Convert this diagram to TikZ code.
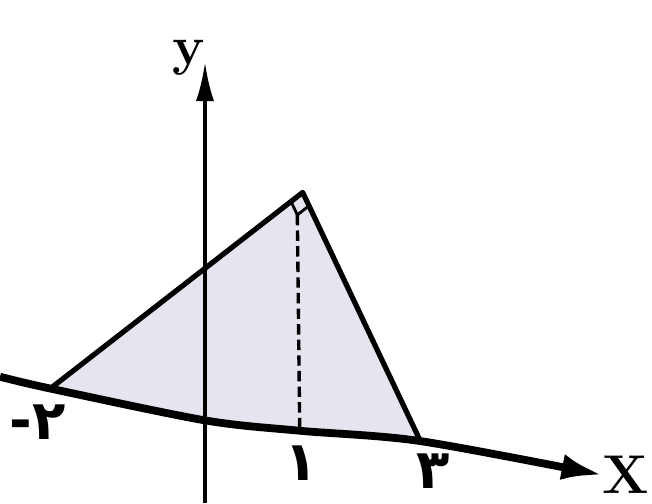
\documentclass[tikz,border=0pt]{standalone}
\usepackage{fontspec}
\newfontfamily\farsi{DejaVu Sans}
\usetikzlibrary{arrows.meta,calc}
\definecolor{trifill}{RGB}{228,229,238}
\begin{document}
\begin{tikzpicture}[
    axis/.style={line width=3pt,-{Latex[length=16pt,width=10pt]}},
    yaxis/.style={line width=1.4pt,-{Latex[length=15pt,width=7pt]}},
    side/.style={line width=2pt,line join=round},
    tick/.style={font=\farsi\bfseries\fontsize{21}{23}\selectfont,inner sep=0pt},
    letter/.style={font=\bfseries\fontsize{21}{24}\selectfont,inner sep=0pt}
  ]
    \useasboundingbox (-2.77,-1.12) rectangle (6.04,5.68);
    % points
    \coordinate (xs) at (-2.77,0.59);
    \coordinate (A) at (-2.09,0.43);
    \coordinate (O) at (0,0);
    \coordinate (D) at (1.28,-0.14);
    \coordinate (C) at (2.91,-0.28);
    \coordinate (xe) at (5.38,-0.74);
    \coordinate (B) at (1.32,3.08);
    \coordinate (ys) at (0,-1.12);
    \coordinate (ye) at (0,4.84);
    % shaded triangle
    \fill[trifill] (A) -- (B) -- plot[smooth] coordinates {(C) (D) (O) (A)} -- cycle;
    % right angle and height
    \coordinate (ra1) at ($(B)!0.2cm!(A)$);
    \coordinate (ra3) at ($(B)!0.2cm!(C)$);
    \coordinate (ra2) at ($(ra1)+(ra3)-(B)$);
    \draw[line width=1.3pt,dash pattern=on 4pt off 2pt] (ra2) -- (D);
    \draw[line width=1.1pt] (ra1) -- (ra2) -- (ra3);
    % axes
    \draw[yaxis] (ys) -- (ye);
    \draw[axis] plot[smooth] coordinates {(xs) (A) (O) (D) (C) (xe)};
    \draw[side] (A) -- (B) -- (C);
    % labels
    \node[letter] (ylab) at (-0.22,4.90) {y};
    \node[letter] (xlab) at (5.69,-0.74) {X};
    \node[tick] (lbla) at (-2.26,-0.02) {-۲};
    \node[tick] (lbld) at (1.30,-0.58) {۱};
    \node[tick] (lblc) at (3.08,-0.68) {۳};
\end{tikzpicture}
\end{document}
